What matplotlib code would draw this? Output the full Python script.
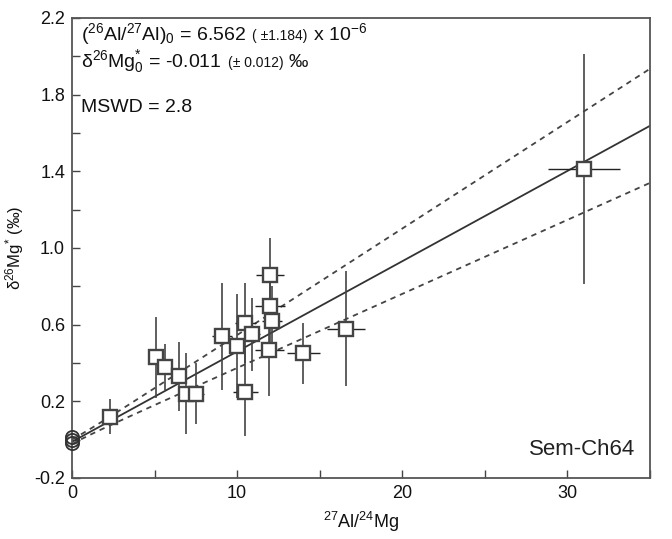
import numpy as np
import matplotlib
matplotlib.use("Agg")
import matplotlib.pyplot as plt

plt.rcParams['font.family'] = ['Liberation Sans', 'DejaVu Sans']
plt.rcParams['mathtext.fontset'] = 'custom'
plt.rcParams['mathtext.rm'] = 'Liberation Sans'
plt.rcParams['mathtext.it'] = 'Liberation Sans:italic'
plt.rcParams['mathtext.bf'] = 'Liberation Sans:bold'

# ---- data ----
al_mg = [2.3, 5.1, 5.65, 6.5, 6.9, 7.5, 9.1, 10.0, 10.5, 10.5, 10.9,
         12.0, 12.0, 12.1, 11.95, 14.0, 16.6, 31.0]
d26mg = [0.12, 0.43, 0.38, 0.33, 0.24, 0.24, 0.54, 0.49, 0.61, 0.25, 0.55,
         0.86, 0.70, 0.62, 0.47, 0.45, 0.58, 1.41]
d26mg_err = [0.09, 0.21, 0.12, 0.18, 0.21, 0.16, 0.28, 0.27, 0.21, 0.23, 0.19,
             0.19, 0.20, 0.18, 0.24, 0.16, 0.30, 0.60]
al_mg_err = [0.3, 0.3, 0.3, 0.35, 0.4, 0.5, 0.6, 0.5, 0.65, 0.75, 0.5,
             0.83, 0.9, 0.6, 0.88, 1.0, 1.15, 2.2]

# normal (spinel/low Al) points at the origin
al_mg0 = [0.0, 0.0, 0.0]
d26mg0 = [0.015, 0.0, -0.015]

# isochron parameters (from annotation)
ratio0 = 6.562e-6
ratio0_err = 1.184e-6
intercept = -0.011
intercept_err = 0.012
mg_ref = 0.13932  # (26Mg/24Mg) reference
slope = ratio0 / mg_ref * 1000.0
slope_err = ratio0_err / mg_ref * 1000.0

fig = plt.figure(figsize=(6.72, 5.39), dpi=100)
ax = fig.add_axes([72/672, 1-478/539, 578/672, 460/539])

xl = np.linspace(0, 35, 200)
yfit = intercept + slope * xl
env = np.sqrt(intercept_err**2 + (xl * slope_err)**2)
ax.plot(xl, yfit, color='#333333', lw=1.3, zorder=2)
ax.plot(xl, yfit + env, color='#444444', lw=1.3, dashes=(3, 2.7), zorder=2)
ax.plot(xl, yfit - env, color='#444444', lw=1.3, dashes=(3, 2.7), zorder=2)

ax.errorbar(al_mg, d26mg, yerr=d26mg_err, fmt='none', ecolor='#444444',
            elinewidth=1.2, capsize=0, zorder=3)
ax.errorbar(al_mg, d26mg, xerr=al_mg_err, fmt='none', ecolor='#222222',
            elinewidth=1.0, capsize=0, zorder=3)
ax.plot(al_mg, d26mg, 's', ms=9.8, mfc='white', mec='#444444', mew=1.7,
        zorder=4, linestyle='none')
ax.plot(al_mg0, d26mg0, 'o', ms=9.5, mfc='none', mec='#333333', mew=1.3,
        zorder=5, linestyle='none', clip_on=False)

ax.set_xlim(0, 35)
ax.set_ylim(-0.2, 2.2)
ax.set_xticks([0, 10, 20, 30])
ax.set_xticks([5, 15, 25, 35], minor=True)
ax.set_yticks(np.arange(-0.2, 2.21, 0.4))
ax.set_yticks(np.arange(0.0, 2.1, 0.4), minor=True)
ax.set_yticklabels(['-0.2', '0.2', '0.6', '1.0', '1.4', '1.8', '2.2'])
ax.tick_params(which='both', direction='in', length=6, width=1.0,
               color='#444444', labelsize=13, right=False, top=False, pad=5,
               labelcolor='#111111')
for s in ax.spines.values():
    s.set_color('#555555')
    s.set_linewidth(1.3)

ax.set_xlabel(r'$\mathregular{^{27}Al/^{24}Mg}$', fontsize=13, labelpad=6,
              color='#111111')
ax.set_ylabel(r'δ$\mathregular{^{26}Mg^{*}}$ (‰)', fontsize=12, labelpad=6,
              color='#111111')

ax.text(0.975, 0.05, 'Sem-Ch64', transform=ax.transAxes, ha='right',
        va='baseline', fontsize=16, color='#222222')

# annotation lines built from pieces with different sizes
fig.canvas.draw()
renderer = fig.canvas.get_renderer()


def chain(pieces, x0, y0):
    x = x0
    for txt, size, gap in pieces:
        t = ax.text(x, y0, txt, transform=ax.transAxes, fontsize=size,
                    va='baseline', ha='left', color='#111111')
        bb = t.get_window_extent(renderer=renderer)
        x = ax.transAxes.inverted().transform((bb.x1 + gap, bb.y0))[0]


chain([(r'$\mathregular{(^{26}Al/^{27}Al)_0}$ = 6.562', 14, 6),
       ('( ±1.184)', 10, 5),
       (r'x 10$\mathregular{^{-6}}$', 14, 0)], 0.016, 0.953)
chain([(r'δ$\mathregular{^{26}Mg^{*}_0}$ = -0.011', 14, 6),
       ('(± 0.012)', 10, 5),
       ('‰', 14, 0)], 0.016, 0.893)
ax.text(0.016, 0.795, 'MSWD = 2.8', transform=ax.transAxes, fontsize=14,
        va='baseline', ha='left', color='#111111')

fig.savefig('out.png', dpi=100)
